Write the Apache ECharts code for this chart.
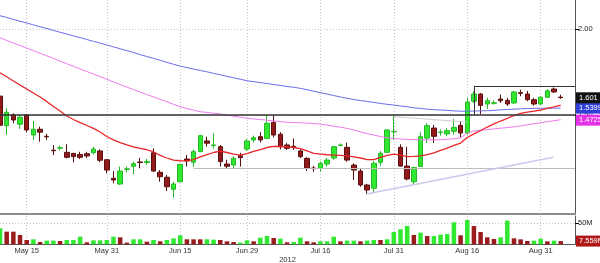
<!DOCTYPE html>
<html><head><meta charset="utf-8">
<script src="https://cdn.jsdelivr.net/npm/echarts@6/dist/echarts.min.js"></script>
<style>html,body{margin:0;padding:0;background:#fff}#c{width:600px;height:263px}</style>
</head><body><div id="c"></div>
<script>
// ---- data (index = trading day) ----
const tickIdx = [4, 16, 27, 37, 48, 59, 70, 81];
const tickLabels = ['May 15', 'May 31', 'Jun 15', 'Jun 29', 'Jul 16', 'Jul 31', 'Aug 16', 'Aug 31'];
const yearLabel = '2012';

const openP = [1.61,1.438,1.50,1.446,1.50,1.384,1.417,1.376,1.295,1.307,
1.283,1.277,1.271,1.275,1.281,1.291,1.24,1.132,1.099,1.184,
1.202,1.227,1.224,1.281,1.167,1.138,1.068,1.112,1.244,1.225,
1.287,1.349,1.323,1.316,1.215,1.209,1.263,1.302,1.355,1.374,
1.364,1.457,1.388,1.326,1.318,1.291,1.248,1.192,1.19,1.215,
1.25,1.323,1.312,1.209,1.174,1.093,1.074,1.225,1.283,1.402,
1.312,1.203,1.112,1.20,1.366,1.424,1.398,1.39,1.405,1.44,
1.395,1.58,1.622,1.564,1.568,1.593,1.585,1.57,1.63,1.622,
1.589,1.564,1.603,1.651,1.604];
const closeP = [1.44,1.516,1.471,1.487,1.413,1.417,1.40,1.373,1.292,1.31,
1.254,1.258,1.254,1.262,1.302,1.237,1.18,1.122,1.174,1.187,
1.217,1.224,1.23,1.174,1.141,1.083,1.099,1.213,1.233,1.287,
1.38,1.336,1.326,1.229,1.202,1.248,1.252,1.349,1.368,1.355,
1.452,1.384,1.316,1.306,1.316,1.258,1.19,1.188,1.219,1.238,
1.316,1.326,1.238,1.18,1.093,1.064,1.219,1.277,1.413,1.405,
1.203,1.128,1.194,1.374,1.438,1.376,1.401,1.409,1.428,1.395,
1.576,1.622,1.556,1.583,1.571,1.583,1.564,1.634,1.626,1.589,
1.564,1.603,1.641,1.634,1.601];
const lowP = [1.42,1.384,1.452,1.419,1.40,1.355,1.345,1.355,1.267,1.293,
1.248,1.225,1.244,1.25,1.271,1.226,1.161,1.103,1.093,1.167,
1.155,1.19,1.21,1.17,1.112,1.058,1.02,1.11,1.20,1.198,
1.285,1.316,1.306,1.20,1.19,1.19,1.20,1.29,1.34,1.34,
1.36,1.37,1.30,1.297,1.297,1.25,1.175,1.17,1.17,1.20,
1.24,1.318,1.228,1.122,1.083,1.039,1.045,1.204,1.28,1.355,
1.20,1.12,1.093,1.198,1.337,1.337,1.38,1.376,1.386,1.37,
1.386,1.57,1.506,1.535,1.56,1.57,1.553,1.564,1.609,1.58,
1.555,1.56,1.60,1.628,1.594];
const highP = [1.63,1.539,1.51,1.50,1.505,1.465,1.432,1.39,1.325,1.322,
1.33,1.277,1.286,1.286,1.316,1.30,1.244,1.174,1.20,1.20,
1.229,1.25,1.245,1.306,1.18,1.151,1.112,1.215,1.267,1.30,
1.384,1.374,1.394,1.326,1.24,1.26,1.28,1.36,1.38,1.40,
1.50,1.50,1.40,1.337,1.364,1.30,1.255,1.205,1.23,1.25,
1.32,1.335,1.34,1.219,1.19,1.10,1.233,1.29,1.415,1.50,
1.33,1.316,1.20,1.40,1.453,1.442,1.415,1.424,1.477,1.465,
1.60,1.638,1.628,1.60,1.585,1.62,1.60,1.64,1.647,1.64,
1.60,1.61,1.65,1.66,1.618];

const maRed = [1.746,1.722,1.698,1.674,1.651,1.628,1.605,1.579,1.549,1.523,
1.494,1.474,1.456,1.439,1.422,1.401,1.375,1.355,1.340,1.326,
1.314,1.306,1.298,1.285,1.265,1.250,1.238,1.234,1.233,1.241,
1.256,1.270,1.282,1.290,1.282,1.273,1.267,1.276,1.288,1.299,
1.311,1.317,1.317,1.315,1.311,1.305,1.291,1.277,1.273,1.269,
1.267,1.265,1.262,1.257,1.250,1.241,1.241,1.253,1.265,1.273,
1.267,1.258,1.259,1.262,1.270,1.280,1.294,1.308,1.323,1.337,
1.369,1.390,1.410,1.430,1.448,1.465,1.480,1.497,1.509,1.517,
1.523,1.529,1.538,1.547,1.558];
const maMagenta = [1.949,1.934,1.919,1.904,1.889,1.874,1.859,1.844,1.829,1.813,
1.798,1.783,1.768,1.753,1.738,1.723,1.708,1.692,1.677,1.662,
1.648,1.633,1.619,1.605,1.591,1.577,1.562,1.548,1.538,1.528,
1.519,1.515,1.510,1.506,1.500,1.493,1.487,1.481,1.477,1.474,
1.470,1.466,1.462,1.458,1.456,1.455,1.453,1.451,1.447,1.441,
1.435,1.429,1.422,1.413,1.402,1.392,1.383,1.375,1.367,1.363,
1.361,1.358,1.357,1.356,1.356,1.356,1.356,1.359,1.362,1.367,
1.395,1.407,1.411,1.415,1.419,1.423,1.427,1.431,1.437,1.443,
1.449,1.455,1.461,1.467,1.4725];
const maBlue = [2.077,2.067,2.056,2.045,2.035,2.024,2.013,2.003,1.992,1.981,
1.971,1.960,1.950,1.939,1.928,1.918,1.907,1.896,1.885,1.874,
1.863,1.851,1.840,1.829,1.818,1.806,1.795,1.784,1.776,1.767,
1.759,1.751,1.742,1.734,1.725,1.716,1.708,1.699,1.694,1.688,
1.683,1.677,1.672,1.666,1.661,1.655,1.647,1.638,1.630,1.622,
1.613,1.605,1.597,1.590,1.584,1.579,1.573,1.567,1.562,1.558,
1.552,1.548,1.542,1.538,1.534,1.531,1.529,1.527,1.524,1.522,
1.522,1.523,1.524,1.525,1.527,1.530,1.532,1.534,1.536,1.5375,
1.5385,1.5392,1.5396,1.5398,1.5399];

const volume = [37.6,29.7,29.7,21.8,10.1,11.7,5.4,8.6,8.6,7.8,
10.1,10.1,17.9,4.6,9.3,9.3,10.1,17.9,16.4,3.9,
11.7,11.7,6.2,10.1,7.0,10.1,14.0,21.1,11.7,11.7,
11.7,11.7,10.9,10.1,7.0,5.4,3.9,9.3,7.0,15.6,
19.5,14.8,13.3,4.6,5.4,15.6,7.0,4.6,7.0,7.0,
17.9,7.0,8.6,8.6,7.0,8.6,10.1,10.1,11.7,28.9,
35.3,43.0,21.8,27.4,19.5,19.5,22.6,24.2,51.6,21.1,
57.0,43.0,28.9,16.4,12.5,16.4,55.5,14.0,11.7,7.8,
8.6,13.3,7.0,8.6,7.559];
const volUp = [1,0,0,0,0,1,0,1,1,0,
1,1,1,0,1,1,1,1,0,0,
1,1,0,1,0,1,1,1,0,0,
0,1,1,0,0,0,1,1,0,1,
1,0,1,0,1,1,0,0,1,1,
1,0,1,1,0,1,1,0,1,1,
1,1,0,1,0,1,1,1,1,0,
1,0,0,0,0,1,1,0,0,0,
1,1,0,1,0];

// annotation levels (data space)
const levelLine = 1.50;
const boxStart = 71, boxTop = 1.670;
const supportStart = 29, supportLevel = 1.19;
const fanLine = [[59, 1.490], [70, 1.459]];
const trendLine = [[54.9, 1.041], [82.9, 1.254]];
const priceTicks = [1.5, 2.0];
const volTicks = [50];

// ---- chart ----
const FONT = '"Liberation Sans", Arial, sans-serif';
const XMAX = 575 / 6.675;
const PMAX = 2 + 29 / 172, PMIN = PMAX - 214 / 172;
const VMAX = 28.3 / 0.426;
const UP = '#2fe82f', DOWN = '#921a1a';
const GRIDC = '#c4c4c4';
const last = closeP.length - 1;

const candleData = openP.map((o, i) => [i, o, closeP[i], lowP[i], highP[i]]);
const volData = volume.map((v, i) => ({ value: [i, v], itemStyle: { color: volUp[i] ? UP : '#9a1c1c' } }));

function xAxisCfg(grid, showLabels) {
  return {
    gridIndex: grid, type: 'value', min: 0, max: XMAX,
    axisLine: { show: true, onZero: false, lineStyle: grid === 0 ? { color: '#8c8c8c', width: 2 } : { color: '#555', width: 1 } },
    axisTick: { show: false, customValues: tickIdx },
    axisLabel: showLabels ? {
      show: true, customValues: tickIdx, formatter: v => tickLabels[tickIdx.indexOf(v)],
      fontSize: 7.5, color: '#333', margin: 3, fontFamily: FONT
    } : { show: false },
    splitLine: { show: true, lineStyle: { color: GRIDC, type: [1, 2], width: 1 } },
    name: showLabels ? yearLabel : '', nameLocation: 'middle', nameGap: 11,
    nameTextStyle: { fontSize: 7.5, color: '#333', fontFamily: FONT }
  };
}
function tag(v, text, bg, z) {
  return {
    yAxis: v,
    label: { show: true, position: 'end', formatter: text, backgroundColor: bg, color: '#fff',
      padding: [2, 3, 1, 3], fontSize: 7.5, distance: 1, fontFamily: FONT, opacity: 1 }
  };
}

const option = {
  animation: false,
  backgroundColor: '#fff',
  textStyle: { fontFamily: FONT },
  grid: [
    { left: 0, right: 25, top: 0, height: 214, outerBoundsMode: 'none', containLabel: false },
    { left: 0, right: 25, top: 216, height: 28.3, outerBoundsMode: 'none', containLabel: false }
  ],
  xAxis: [xAxisCfg(0, false), xAxisCfg(1, true)],
  yAxis: [
    { gridIndex: 0, type: 'value', position: 'right', min: PMIN, max: PMAX,
      axisLine: { show: true, onZero: false, lineStyle: { color: '#555' } },
      axisTick: { show: true, customValues: priceTicks, length: 4, lineStyle: { color: '#000' } },
      axisLabel: { customValues: priceTicks, formatter: v => v.toFixed(2), fontSize: 7.5, color: '#222', margin: 3, fontFamily: FONT },
      splitLine: { show: true, lineStyle: { color: GRIDC, type: [1, 2] } } },
    { gridIndex: 1, type: 'value', position: 'right', min: 0, max: VMAX,
      axisLine: { show: true, onZero: false, lineStyle: { color: '#555' } },
      axisTick: { show: true, customValues: volTicks, length: 4, lineStyle: { color: '#000' } },
      axisLabel: { customValues: volTicks, formatter: v => v + 'M', fontSize: 7.5, color: '#222', margin: 3, fontFamily: FONT },
      splitLine: { show: true, lineStyle: { color: GRIDC, type: [1, 2] } } }
  ],
  series: [
    { type: 'line', name: 'drawings', xAxisIndex: 0, yAxisIndex: 0, data: [], z: 1, silent: true,
      markLine: { silent: true, symbol: 'none', animation: false, label: { show: false },
        data: [
          [{ coord: [supportStart, supportLevel], lineStyle: { color: '#bdbdbd', width: 1, type: 'solid' } }, { coord: [XMAX, supportLevel] }],
          [{ coord: fanLine[0], lineStyle: { color: '#cfcfcf', width: 1, type: 'solid' } }, { coord: fanLine[1] }],
          [{ coord: trendLine[0], lineStyle: { color: '#c9c9ee', width: 1.5, type: 'solid' } }, { coord: trendLine[1] }]
        ] } },
    { type: 'candlestick', name: 'price', xAxisIndex: 0, yAxisIndex: 0, data: candleData, barWidth: 5, z: 2,
      itemStyle: { color: UP, color0: DOWN, borderColor: '#25b825', borderColor0: '#5a1010', borderWidth: 1 } },
    { type: 'line', name: 'maBlue', xAxisIndex: 0, yAxisIndex: 0, data: maBlue.map((v, i) => [i, v]), symbol: 'none', z: 3, silent: true,
      lineStyle: { color: '#6b6bea', width: 1 } },
    { type: 'line', name: 'maMagenta', xAxisIndex: 0, yAxisIndex: 0, data: maMagenta.map((v, i) => [i, v]), symbol: 'none', z: 3, silent: true,
      lineStyle: { color: '#ee7aee', width: 1 } },
    { type: 'line', name: 'maRed', xAxisIndex: 0, yAxisIndex: 0, data: maRed.map((v, i) => [i, v]), symbol: 'none', z: 3, silent: true,
      lineStyle: { color: '#e8262a', width: 1.3 } },
    { type: 'line', name: 'levels', xAxisIndex: 0, yAxisIndex: 0, data: [], z: 4, silent: true,
      markLine: { silent: true, symbol: 'none', animation: false, label: { show: false },
        data: [
          { yAxis: levelLine, lineStyle: { color: '#333', width: 1.5, type: 'solid' } },
          [{ coord: [boxStart, boxTop], lineStyle: { color: '#333', width: 1, type: 'solid' } }, { coord: [XMAX, boxTop] }],
          [{ coord: [boxStart, boxTop], lineStyle: { color: '#333', width: 1, type: 'solid' } }, { coord: [boxStart, levelLine] }]
        ] } },
    { type: 'line', name: 'tags', xAxisIndex: 0, yAxisIndex: 0, data: [], z: 10, clip: false, silent: true,
      markLine: { silent: true, symbol: 'none', animation: false,
        lineStyle: { color: 'rgba(0,0,0,0)', width: 0 },
        data: [
          tag(maMagenta[last], maMagenta[last].toFixed(4), '#e632e6'),
          tag(maRed[last], maRed[last].toFixed(4), '#d42020'),
          tag(maBlue[last], maBlue[last].toFixed(4), '#2f3fd8'),
          tag(closeP[last], closeP[last].toFixed(3), '#111')
        ] } },
    { type: 'bar', name: 'volume', xAxisIndex: 1, yAxisIndex: 1, data: volData, barWidth: 4.5, z: 2 },
    { type: 'line', name: 'volTag', xAxisIndex: 1, yAxisIndex: 1, data: [], z: 10, clip: false, silent: true,
      markLine: { silent: true, symbol: 'none', animation: false,
        lineStyle: { color: 'rgba(0,0,0,0)', width: 0 },
        data: [ tag(volume[last], volume[last].toFixed(3) + 'M', '#b01818') ] } }
  ]
};
const chart = echarts.init(document.getElementById('c'), null, { renderer: 'canvas' });
chart.setOption(option);
</script>
</body></html>
